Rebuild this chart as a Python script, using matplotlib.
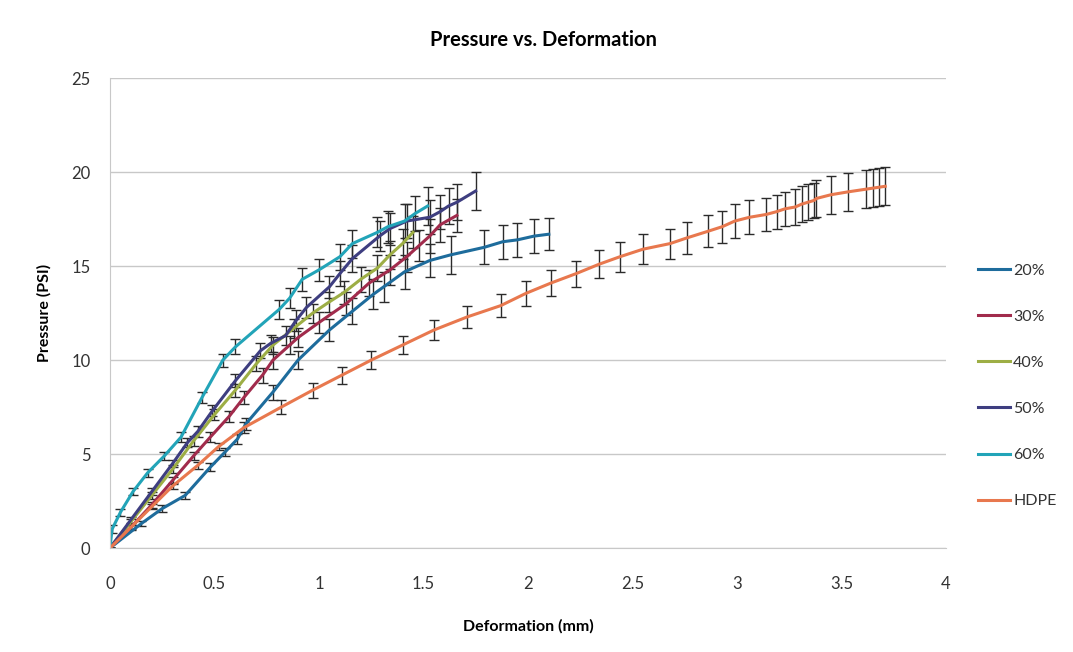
import numpy as np
import matplotlib.pyplot as plt

plt.rcParams['font.family'] = ['Lato', 'DejaVu Sans']

# 20%
x20 = [0, 0.15, 0.25, 0.36, 0.48, 0.55, 0.61, 0.65, 0.78, 0.9, 1.05, 1.16, 1.26, 1.31, 1.41, 1.53, 1.63, 1.79, 1.88, 1.95, 2.03, 2.1]
y20 = [0, 1.3, 2.1, 2.8, 4.3, 5.1, 5.8, 6.6, 8.3, 10.0, 11.6, 12.6, 13.5, 13.9, 14.7, 15.3, 15.6, 16.0, 16.3, 16.4, 16.6, 16.7]
e20 = [0, 0.15, 0.2, 0.2, 0.2, 0.2, 0.25, 0.3, 0.4, 0.5, 0.6, 0.7, 0.8, 0.8, 0.9, 0.9, 1.0, 0.9, 0.9, 0.9, 0.9, 0.85]

# 30%
x30 = [0, 0.1, 0.2, 0.3, 0.4, 0.48, 0.57, 0.64, 0.73, 0.78, 0.86, 0.9, 1.0, 1.13, 1.24, 1.34, 1.42, 1.48, 1.53, 1.58, 1.66]
y30 = [0, 1.1, 2.3, 3.6, 4.9, 5.9, 7.0, 8.0, 9.2, 10.0, 10.8, 11.2, 12.0, 13.0, 14.1, 14.8, 15.5, 16.1, 16.6, 17.2, 17.7]
e30 = [0, 0.15, 0.15, 0.2, 0.2, 0.25, 0.3, 0.35, 0.4, 0.45, 0.5, 0.5, 0.55, 0.6, 0.7, 0.8, 0.8, 0.85, 0.9, 0.9, 0.9]

# 40%
x40 = [0, 0.1, 0.2, 0.3, 0.4, 0.5, 0.6, 0.7, 0.78, 0.88, 0.97, 1.05, 1.12, 1.2, 1.28, 1.34, 1.4, 1.45]
y40 = [0, 1.4, 2.8, 4.2, 5.7, 7.1, 8.4, 9.8, 10.8, 11.7, 12.5, 13.1, 13.6, 14.3, 14.9, 15.6, 16.2, 16.8]
e40 = [0, 0.15, 0.2, 0.2, 0.25, 0.3, 0.35, 0.4, 0.45, 0.5, 0.5, 0.55, 0.6, 0.65, 0.7, 0.75, 0.8, 0.85]

# 50%
x50 = [0, 0.1, 0.2, 0.3, 0.37, 0.42, 0.49, 0.6, 0.72, 0.77, 0.84, 0.89, 0.94, 1.05, 1.1, 1.16, 1.29, 1.34, 1.42, 1.53, 1.58, 1.62, 1.66, 1.75]
y50 = [0, 1.5, 3.0, 4.5, 5.6, 6.2, 7.3, 8.9, 10.5, 10.9, 11.3, 12.1, 12.8, 13.9, 14.6, 15.4, 16.6, 17.0, 17.4, 17.6, 17.9, 18.2, 18.4, 19.0]
e50 = [0, 0.15, 0.2, 0.2, 0.25, 0.3, 0.3, 0.35, 0.4, 0.45, 0.5, 0.55, 0.55, 0.6, 0.65, 0.7, 0.8, 0.85, 0.9, 0.9, 0.9, 0.95, 0.95, 1.0]

# 60%
x60 = [0, 0.01, 0.05, 0.11, 0.18, 0.26, 0.34, 0.44, 0.54, 0.6, 0.81, 0.86, 0.92, 1.0, 1.1, 1.16, 1.28, 1.33, 1.41, 1.46, 1.52]
y60 = [0, 1.0, 1.9, 3.0, 4.0, 4.9, 5.9, 8.0, 10.0, 10.7, 12.7, 13.3, 14.3, 14.8, 15.5, 16.2, 16.8, 17.1, 17.4, 17.8, 18.2]
e60 = [0, 0.2, 0.2, 0.2, 0.2, 0.2, 0.25, 0.3, 0.35, 0.4, 0.5, 0.55, 0.6, 0.6, 0.7, 0.75, 0.8, 0.85, 0.9, 0.95, 1.0]

# HDPE
xh = [0, 0.1, 0.2, 0.3, 0.42, 0.52, 0.64, 0.82, 0.97, 1.11, 1.25, 1.4, 1.55, 1.71, 1.87, 1.99, 2.11, 2.23, 2.34, 2.44,
      2.55, 2.68, 2.76, 2.86, 2.93, 2.99, 3.06, 3.14, 3.19, 3.23, 3.28, 3.31, 3.34, 3.37, 3.38, 3.45, 3.53, 3.62, 3.65, 3.68, 3.71]
yh = [0, 1.1, 2.2, 3.3, 4.4, 5.4, 6.4, 7.5, 8.4, 9.2, 10.0, 10.8, 11.6, 12.3, 12.9, 13.55, 14.1, 14.6, 15.1, 15.5,
      15.9, 16.2, 16.5, 16.85, 17.1, 17.4, 17.6, 17.75, 17.9, 18.05, 18.15, 18.3, 18.4, 18.5, 18.6, 18.8, 18.95, 19.1, 19.15, 19.2, 19.25]
eh = [0, 0.1, 0.15, 0.15, 0.2, 0.2, 0.3, 0.35, 0.4, 0.45, 0.5, 0.5, 0.55, 0.6, 0.6, 0.65, 0.7, 0.7, 0.75, 0.8,
      0.8, 0.8, 0.85, 0.85, 0.85, 0.9, 0.9, 0.9, 0.9, 0.9, 0.95, 0.95, 0.95, 0.95, 1.0, 1.0, 1.0, 1.0, 1.0, 1.0, 1.0]

labels = ['20%', '30%', '40%', '50%', '60%', 'HDPE']
colors = ['#1E6C9C', '#A12B4C', '#9DAE45', '#3E3E80', '#22A4B8', '#E8784E']
series = [(x20, y20, e20), (x30, y30, e30), (x40, y40, e40),
          (x50, y50, e50), (x60, y60, e60), (xh, yh, eh)]

fig = plt.figure(figsize=(10.73, 6.52), dpi=100)
ax = fig.add_axes([0.1025, 0.1595, 0.779, 0.7205])

handles = []
for (x, y, e), c, lab in zip(series, colors, labels):
    cont = ax.errorbar(x, y, yerr=e, fmt='-', color=c, lw=2.2, ecolor='#2b2b2b',
                       elinewidth=1, capsize=3.5, capthick=1, label=lab)
    handles.append(cont[0])

ax.set_xlim(0, 4)
ax.set_ylim(0, 25)
ax.set_xticks([0, 0.5, 1, 1.5, 2, 2.5, 3, 3.5, 4])
ax.set_xticklabels(['0', '0.5', '1', '1.5', '2', '2.5', '3', '3.5', '4'])
ax.set_yticks([0, 5, 10, 15, 20, 25])
ax.grid(axis='y', color='#c8c8c8', lw=1)
ax.set_axisbelow(True)
for s in ['top', 'right']:
    ax.spines[s].set_visible(False)
ax.spines['left'].set_color('#c8c8c8')
ax.spines['bottom'].set_color('#c8c8c8')
ax.tick_params(axis='y', length=0, pad=14, labelsize=12, labelcolor='#333333')
ax.tick_params(axis='x', length=0, pad=20, labelsize=12, labelcolor='#333333')

ax.set_xlabel('Deformation (mm)', fontsize=11.5, fontweight='bold', labelpad=20)
ax.set_ylabel('Pressure (PSI)', fontsize=11.5, fontweight='bold', labelpad=14)
fig.text(0.506, 0.938, 'Pressure vs. Deformation', ha='center', va='center',
         fontsize=14.5, fontweight='bold')

fig.legend(handles, labels, loc='upper left', bbox_to_anchor=(0.898, 0.618),
           frameon=False, fontsize=11.5, labelspacing=2.0, handlelength=2.0,
           handletextpad=0.2, labelcolor='#333333')

plt.savefig('out.png', dpi=100)
